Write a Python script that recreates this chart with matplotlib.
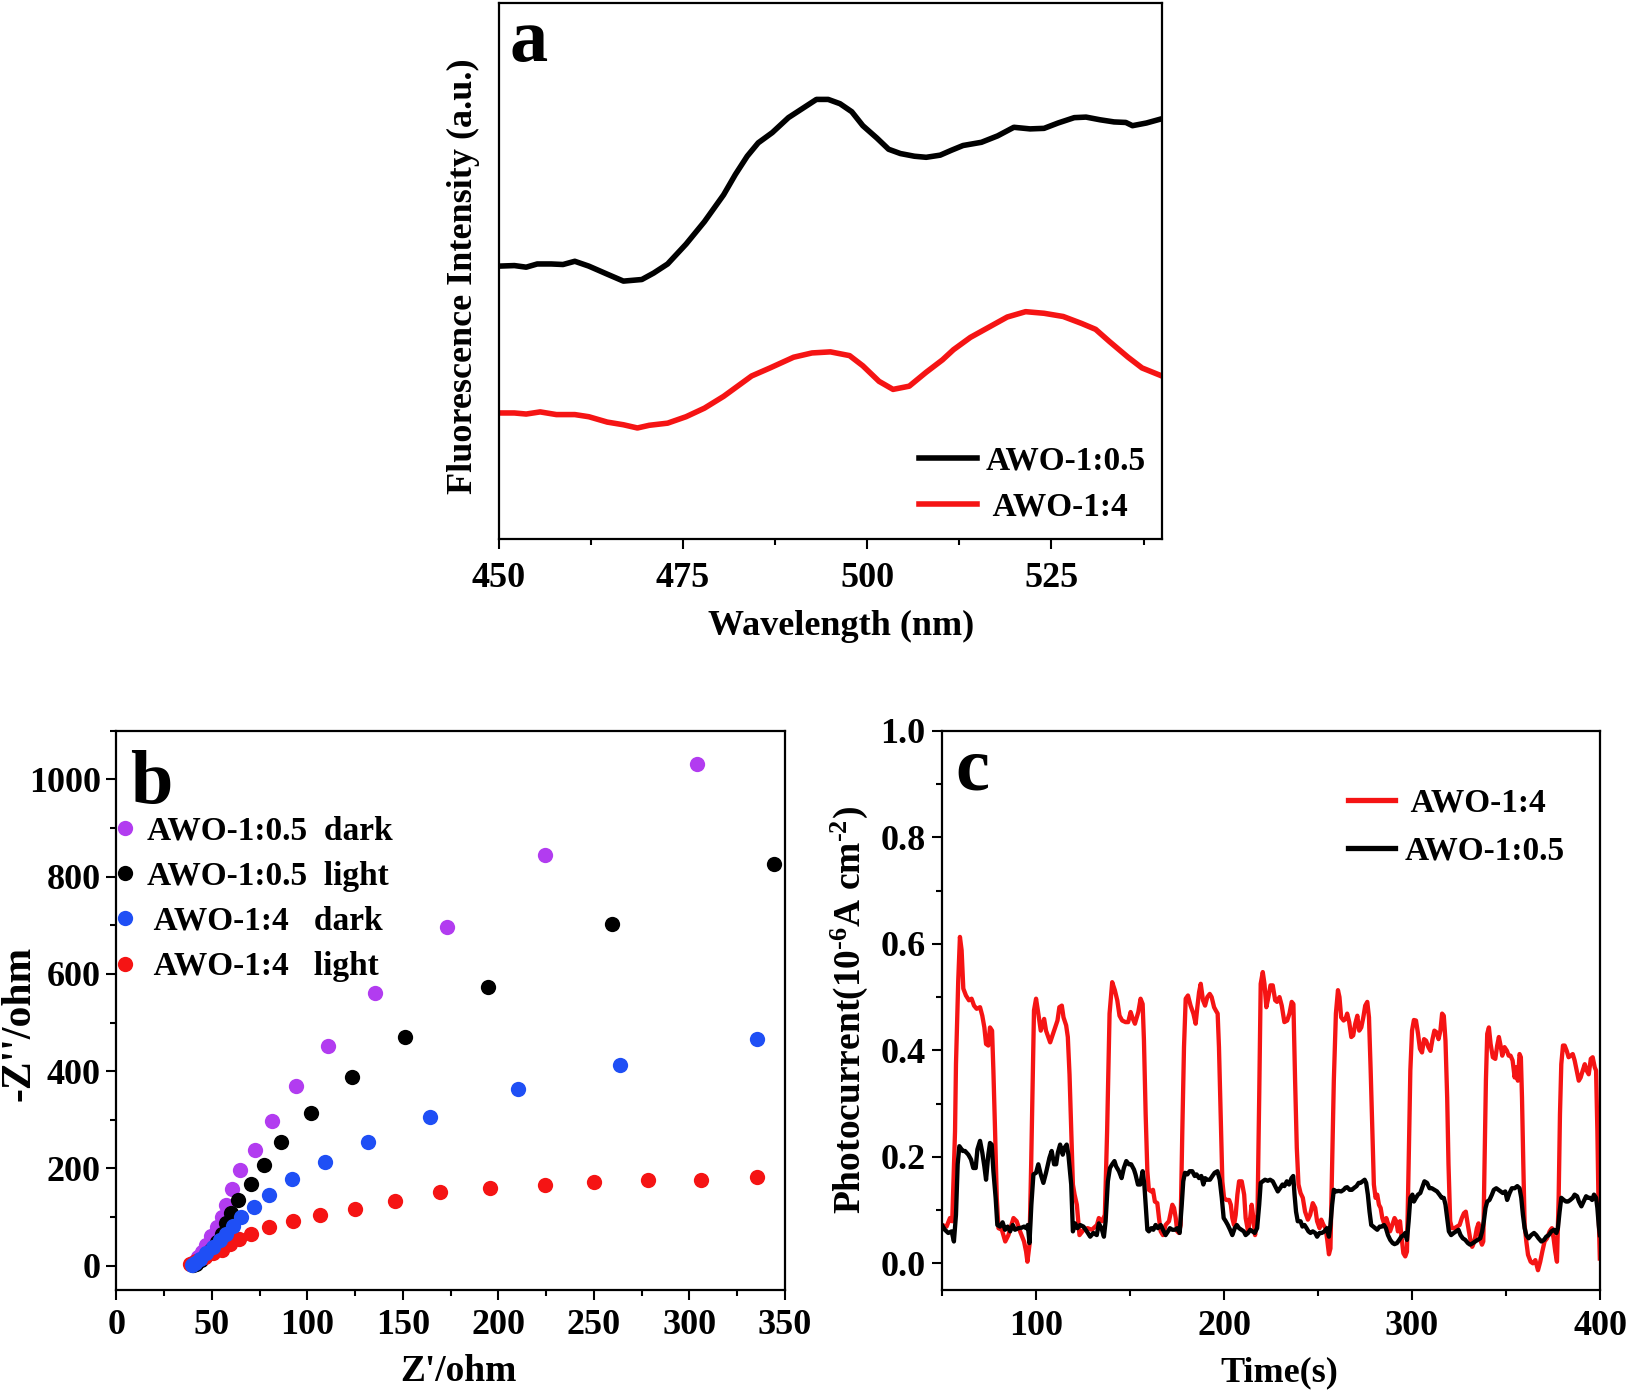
import matplotlib
matplotlib.use("Agg")
import matplotlib.pyplot as plt
from matplotlib.ticker import MultipleLocator, FormatStrFormatter

plt.rcParams['font.family'] = ['Liberation Serif', 'DejaVu Serif']
plt.rcParams['font.weight'] = 'bold'
plt.rcParams['axes.labelweight'] = 'bold'
plt.rcParams['mathtext.fontset'] = 'custom'
plt.rcParams['mathtext.rm'] = 'Liberation Serif:bold'
plt.rcParams['mathtext.it'] = 'Liberation Serif:italic:bold'
plt.rcParams['mathtext.bf'] = 'Liberation Serif:bold'
plt.rcParams['mathtext.default'] = 'rm'

# ── (a) fluorescence spectra ─────────────────────────────────────────────────
wl_05 = [450.0, 452.1, 453.7, 455.2, 457.1, 458.7, 460.3, 462.2, 464.7, 466.9,
         469.4, 471.0, 472.9, 475.4, 477.9, 480.5, 482.1, 483.7, 485.2, 487.1,
         489.3, 491.2, 493.1, 494.7, 496.3, 497.9, 499.4, 501.3, 502.9, 504.5,
         506.4, 508.0, 509.9, 511.4, 513.0, 515.5, 517.7, 519.9, 522.1, 524.0,
         525.9, 528.1, 529.7, 531.6, 533.5, 535.1, 536.0, 537.9, 540.0]
fl_05 = [50.9, 51.0, 50.7, 51.3, 51.3, 51.2, 51.8, 50.9, 49.4, 48.1,
         48.4, 49.6, 51.3, 55.0, 59.2, 64.2, 68.0, 71.4, 73.9, 75.8,
         78.6, 80.3, 82.0, 82.0, 81.2, 79.7, 77.1, 74.8, 72.7, 71.9,
         71.4, 71.2, 71.6, 72.5, 73.4, 74.0, 75.2, 76.8, 76.5, 76.6,
         77.6, 78.6, 78.7, 78.2, 77.8, 77.7, 77.1, 77.6, 78.4]
wl_4 = [450.0, 452.1, 453.7, 455.6, 457.8, 460.3, 462.2, 464.7, 466.9, 468.8,
        470.4, 472.9, 475.4, 477.9, 480.5, 482.4, 484.3, 486.8, 490.0, 492.5,
        495.0, 497.6, 499.4, 501.6, 503.5, 505.7, 508.0, 510.2, 511.7, 514.0,
        516.5, 519.0, 521.5, 524.0, 526.6, 529.1, 531.0, 532.9, 535.4, 537.3,
        540.0]
fl_4 = [23.5, 23.5, 23.3, 23.7, 23.2, 23.2, 22.8, 21.8, 21.3, 20.7,
        21.2, 21.6, 22.8, 24.4, 26.6, 28.5, 30.4, 31.9, 33.9, 34.7,
        34.9, 34.2, 32.3, 29.4, 27.9, 28.5, 31.1, 33.4, 35.3, 37.6,
        39.5, 41.4, 42.4, 42.1, 41.5, 40.2, 39.1, 36.8, 33.9, 31.9,
        30.4]

# ── (b) Nyquist plots ────────────────────────────────────────────────────────
zr_05d = [38.9, 40.7, 42.8, 45.0, 47.1, 49.7, 52.4, 55.0, 57.6, 60.7,
          64.9, 72.5, 81.2, 93.9, 110.5, 135.6, 173.1, 224.6, 303.9]
zi_05d = [3, 8, 17, 28, 42, 61, 80, 101, 125, 157,
          196, 238, 297, 370, 452, 560, 697, 845, 1031]
zr_05l = [40.1, 41.9, 44.5, 47.1, 49.7, 52.4, 55.0, 57.6, 60.2, 63.7,
          70.2, 77.1, 86.4, 101.6, 123.2, 151.3, 194.5, 259.6, 344.4]
zi_05l = [1, 4, 11, 21, 32, 49, 66, 87, 109, 135,
          168, 206, 254, 314, 388, 470, 574, 702, 827]
zr_4d = [39.3, 41.0, 43.6, 47.1, 50.6, 54.1, 57.6, 61.1, 65.4, 71.9,
         79.9, 92.0, 109.4, 131.7, 164.0, 210.0, 263.7, 335.3]
zi_4d = [1, 6, 14, 26, 39, 52, 66, 81, 99, 121,
         146, 178, 214, 255, 306, 363, 412, 466]
zr_4l = [38.4, 41.9, 46.2, 50.6, 55.0, 59.3, 64.2, 70.3, 79.8, 92.6,
         106.4, 124.8, 145.8, 169.5, 195.4, 224.3, 250.2, 278.3, 305.9, 335.6]
zi_4l = [3, 10, 17, 25, 33, 44, 54, 66, 80, 91,
         104, 117, 133, 151, 160, 166, 171, 176, 177, 182]
eis_labels = ['AWO-1:0.5  dark', 'AWO-1:0.5  light', ' AWO-1:4   dark', ' AWO-1:4   light']

# ── (c) transient photocurrent ───────────────────────────────────────────────
t_4 = [49.9, 52.4, 54.2, 55.4, 56.9, 57.4, 58.6, 59.5, 60.4, 61.3, 62.7, 64.3, 65.7, 67.0,
       68.4, 70.2, 71.4, 72.5, 73.4, 74.6, 75.5, 76.6, 77.3, 78.2, 79.1, 80.0, 81.8, 83.6,
       85.3, 88.0, 89.7, 91.5, 93.6, 94.7, 95.4, 96.5, 97.4, 98.2, 98.9, 100.0, 101.2, 102.5,
       103.6, 104.3, 105.3, 107.5, 109.6, 111.4, 112.4, 113.7, 114.6, 116.0, 116.9, 117.8,
       118.7, 119.6, 120.5, 121.7, 123.1, 125.3, 127.4, 129.7, 132.4,
       133.4, 135.2, 136.6, 137.8, 139.1, 140.5, 141.9, 143.2, 144.4, 145.8, 147.6, 149.0,
       150.3, 151.5, 152.6, 154.4, 155.6, 156.7, 157.4, 158.3, 159.2, 160.0, 161.3, 162.2,
       163.2, 164.5, 165.4, 166.3, 167.5, 168.9, 170.7, 172.5, 173.4, 174.3, 175.1, 176.0,
       176.9, 177.8, 178.7, 179.6, 180.8, 182.2, 183.7, 184.9, 185.8, 186.7, 187.6, 188.8,
       189.9, 191.1, 192.4, 193.4, 194.7, 195.6, 196.6, 197.3, 198.2, 199.1, 200.0, 201.2,
       202.7, 203.6, 204.4, 205.3, 206.2, 207.1, 208.0, 209.4, 210.7, 211.5, 212.8, 213.7,
       214.7, 215.6, 216.5, 217.8, 218.7, 219.5,
       220.6, 221.5, 222.5, 223.6, 224.7, 225.9, 227.2, 228.2, 229.5, 230.7, 232.1, 233.6,
       234.8, 236.0, 236.9, 237.8, 238.7, 239.6, 240.7, 241.9, 243.1, 244.6, 245.8, 247.2,
       248.5, 249.5, 250.8, 251.7, 252.9, 254.0, 254.9, 255.8, 256.6, 257.5, 258.4, 259.5,
       260.6, 261.4, 262.3, 263.6, 264.6, 265.5, 266.6, 267.7, 268.7, 269.8, 270.9, 271.9,
       273.0, 274.1, 275.1, 276.2, 277.1, 278.0, 278.9, 279.7, 280.6, 281.5, 282.4, 283.3,
       284.2, 285.4, 286.3, 287.2, 288.3, 289.5, 290.7, 291.6, 292.5, 293.6, 294.5, 295.4,
       296.4, 297.3, 298.2, 299.1, 300.0, 301.0, 302.1, 303.2, 304.2, 305.3, 306.4,
       307.5, 308.7, 309.8, 310.9, 311.9, 313.0, 314.1, 315.1, 316.0, 316.9, 317.8, 318.7,
       319.4, 320.3, 321.2, 322.6, 324.0, 325.3, 326.5, 327.6, 328.6, 329.7, 330.9, 332.0,
       333.2, 334.5, 335.4, 336.3, 337.2, 337.9, 338.6, 339.3, 340.0, 340.9, 341.8, 343.0,
       344.3, 345.3, 346.2, 347.1, 348.0, 349.2, 350.5, 351.4, 352.4, 353.5, 354.6, 355.4,
       356.3, 357.2, 357.9, 358.5, 359.2, 359.9, 360.8, 361.7, 363.1, 364.3, 365.6, 367.0,
       368.2, 369.3, 370.5, 371.8, 373.2, 374.4, 375.3, 376.2, 377.1, 378.0, 378.7, 379.4,
       380.3, 381.2, 382.3, 383.3, 384.4, 385.5, 386.5, 387.6, 388.7, 389.7, 390.8, 391.9,
       392.9, 394.0, 395.1, 396.1, 397.2, 397.9, 398.6, 399.3, 399.9]
pc_4 = [.072, .069, .085, .079, .248, .374, .531, .613, .588, .516, .503, .494, .497, .484,
        .478, .481, .465, .443, .412, .409, .443, .437, .362, .248, .123, .066, .063, .041,
        .053, .085, .079, .060, .041, .022, .003, .035, .186, .343, .475, .497, .469, .437,
        .450, .459, .437, .415, .437, .456, .481, .484, .462, .447, .425, .355,
        .248, .148, .129, .110, .053, .063, .066, .063, .072,
        .085, .079, .091, .248, .469, .528, .513, .494, .465, .456, .453, .453,
        .472, .459, .450, .472, .497, .487, .418, .280, .173, .138, .135, .138,
        .116, .113, .085, .060, .053, .072, .079, .110, .104, .085, .060, .057,
        .072, .248, .406, .497, .503, .484, .469, .450, .481, .509, .525, .494,
        .484, .500, .506, .500, .481, .475, .469, .406, .280, .154, .123, .119,
        .119, .110, .085, .072, .091, .129, .154, .154, .129, .085, .060, .079,
        .110, .085, .053, .091, .311, .525,
        .547, .525, .481, .500, .522, .522, .494, .491, .500, .484, .453, .456,
        .469, .491, .487, .343, .217, .148, .132, .123, .097, .082, .091, .113,
        .104, .079, .066, .082, .072, .066, .044, .017, .028, .186, .343, .469,
        .513, .500, .462, .456, .459, .469, .453, .425, .428, .450, .465, .437,
        .443, .462, .484, .491, .462, .362, .248, .148, .123, .129, .110, .104,
        .085, .072, .085, .075, .060, .072, .085, .079, .060, .079, .047, .019,
        .013, .022, .186, .362, .437, .457, .456, .431, .403, .396, .421,
        .418, .406, .399, .421, .437, .434, .421, .437, .469, .465, .418, .311,
        .186, .079, .066, .066, .069, .072, .085, .094, .097, .072, .047, .031,
        .041, .066, .075, .044, .035, .041, .186, .343, .431, .443, .412, .387,
        .384, .409, .425, .409, .390, .406, .399, .390, .390, .381, .349, .368,
        .343, .393, .387, .311, .186, .072, .041, .016, .003, .000, .006, -.013,
        .003, .022, .041, .047, .060, .066, .047, .022, .003, .123, .280, .374,
        .409, .409, .399, .387, .390, .393, .381, .362, .343, .349, .362, .374,
        .362, .355, .384, .387, .368, .362, .248, .091, .009]

t_05 = [49.9, 51.5, 53.3, 55.1, 56.3, 57.4, 58.3, 59.2, 61.0, 62.2, 64.0, 65.4, 66.6, 67.9,
        68.8, 70.2, 71.4, 72.5, 73.4, 74.6, 75.5, 76.4, 77.3, 78.5, 79.4, 80.8, 82.2, 83.5,
        84.9, 86.2, 87.6, 88.8, 90.6, 92.4, 93.6, 94.7, 95.6, 96.5, 97.5, 98.6, 100.0, 101.2,
        102.5, 103.9, 105.3, 107.1, 108.3, 109.6, 110.7, 111.6, 112.8, 114.2, 115.1, 116.3,
        117.2, 118.7, 119.6, 120.8, 122.0, 123.4, 125.2, 127.0, 128.8, 130.5, 132.3,
        133.4, 134.8, 136.1, 137.0, 138.2, 139.3, 140.5, 141.7, 142.6, 144.1, 145.5, 146.7,
        148.0, 149.4, 150.6, 152.1, 152.9, 154.2, 155.4, 156.7, 157.6, 158.3, 159.2, 160.0,
        161.3, 162.4, 163.6, 164.8, 166.3, 167.5, 168.9, 170.2, 171.2, 172.5, 173.9, 175.1,
        176.4, 177.5, 178.3, 179.2, 180.5, 181.7, 183.1, 184.4, 185.4, 186.7, 187.9, 189.0,
        189.9, 191.1, 192.5, 193.8, 195.0, 196.5, 197.7, 198.8, 199.8, 200.9, 202.0, 203.2,
        204.4, 205.7, 206.8, 208.0, 209.2, 210.5, 211.5, 212.8, 213.9, 215.1, 216.3, 217.6,
        218.7, 219.5,
        220.6, 221.8, 223.3, 224.5, 225.9, 227.2, 228.6, 229.8, 231.1, 232.1, 233.4, 234.6,
        235.9, 236.8, 237.5, 238.3, 239.2, 240.7, 241.7, 242.8, 243.9, 244.9, 246.0, 247.2,
        248.5, 249.5, 250.8, 252.0, 253.4, 254.7, 255.8, 256.6, 257.5, 258.4, 259.7, 260.9,
        262.3, 263.6, 264.6, 265.5, 266.8, 268.0, 269.3, 270.5, 271.6, 272.6, 273.7, 274.8,
        275.6, 276.5, 277.4, 278.3, 279.4, 280.4, 281.5, 282.8, 284.0, 285.1, 286.1, 287.2,
        288.4, 289.7, 290.7, 292.0, 293.2, 294.3, 295.5, 296.4, 297.3, 298.2, 299.1, 300.2,
        301.0, 302.1, 303.2, 304.4, 305.7,
        306.6, 308.0, 309.3, 310.5, 311.9, 313.3, 314.6, 315.8, 316.9, 317.8, 318.7, 319.6,
        320.8, 322.2, 323.5, 324.7, 325.8, 327.0, 328.3, 329.7, 330.9, 332.4, 333.6, 335.0,
        336.3, 337.3, 338.2, 339.1, 340.0, 341.2, 342.5, 343.5, 344.8, 346.0, 347.1, 348.3,
        349.6, 350.6, 351.9, 353.1, 354.6, 356.0, 357.2, 358.1, 359.0, 359.9, 360.8, 362.0,
        363.4, 364.9, 366.1, 367.3, 368.8, 370.2, 371.4, 372.7, 374.1, 375.5, 376.8, 377.6,
        378.5, 379.4, 380.7, 381.9, 383.0, 384.2, 385.5, 386.5, 387.8, 388.8, 390.1, 391.3,
        392.6, 393.6, 394.7, 395.8, 396.8, 397.9, 398.6, 399.3, 399.9]
pc_05 = [.072, .063, .057, .060, .041, .091, .186, .220, .211, .211, .204, .195, .179, .179,
         .214, .230, .208, .182, .157, .204, .226, .223, .173, .123, .072, .069, .077, .063,
         .069, .060, .072, .063, .066, .067, .069, .066, .072, .038, .110, .167, .170, .186,
         .167, .151, .170, .198, .211, .186, .186, .208, .223, .204, .217, .223,
         .204, .148, .060, .075, .066, .072, .069, .060, .050, .057, .053,
         .075, .066, .050, .079, .154, .179, .186, .192, .182, .173, .160, .179,
         .192, .186, .186, .176, .167, .148, .148, .173, .148, .110, .063, .060,
         .066, .063, .072, .066, .072, .063, .053, .060, .066, .063, .063, .066,
         .057, .110, .154, .170, .167, .173, .173, .164, .167, .160, .164, .148,
         .160, .157, .157, .164, .170, .173, .157, .123, .085, .079, .072, .063,
         .053, .066, .072, .066, .063, .060, .053, .057, .063, .060, .057, .066,
         .110, .151,
         .154, .157, .155, .157, .154, .145, .135, .141, .148, .145, .154, .148,
         .160, .164, .129, .097, .079, .079, .069, .072, .066, .060, .057, .060,
         .057, .050, .057, .057, .060, .066, .050, .072, .110, .138, .135, .136,
         .135, .138, .142, .143, .138, .138, .142, .145, .151, .151, .154, .157,
         .151, .129, .097, .072, .069, .066, .063, .069, .069, .072, .066, .053,
         .044, .038, .036, .038, .044, .050, .053, .057, .044, .079, .123, .129,
         .116, .123, .129, .132, .145,
         .154, .151, .141, .141, .138, .135, .129, .123, .123, .110, .085, .060,
         .053, .057, .060, .063, .053, .047, .044, .038, .035, .038, .041, .044,
         .047, .060, .079, .104, .116, .119, .129, .138, .141, .138, .135, .132,
         .135, .119, .132, .141, .141, .145, .141, .123, .091, .066, .053, .047,
         .053, .057, .053, .047, .041, .044, .050, .053, .060, .063, .057, .066,
         .097, .123, .119, .116, .116, .119, .123, .129, .126, .116, .107, .116,
         .126, .123, .123, .119, .129, .123, .104, .072, .053]

LBL = 26
TICK = 26
LEG = 24
LETTER = 55
PURPLE = '#B23CF0'
BLUE = '#1F4FF5'
RED = '#F51414'


def style_axes(ax):
    for s in ax.spines.values():
        s.set_linewidth(1.6)
    ax.tick_params(which='both', direction='out', width=1.5, labelsize=TICK,
                   top=False, right=False)
    ax.tick_params(which='major', length=7)
    ax.tick_params(which='minor', length=4)


fig = plt.figure(figsize=(16.31, 13.98), dpi=100, facecolor='white')

# Panel a
ax1 = fig.add_axes([0.3059, 0.6145, 0.4065, 0.3834])
ax1.plot(wl_05, fl_05, color='black', lw=4, label='AWO-1:0.5')
ax1.plot(wl_4, fl_4, color=RED, lw=4, label=' AWO-1:4')
ax1.set_xlim(450, 540)
ax1.set_ylim(0, 100)
style_axes(ax1)
ax1.xaxis.set_major_locator(MultipleLocator(25))
ax1.xaxis.set_minor_locator(MultipleLocator(12.5))
ax1.tick_params(axis='x', which='major', pad=9.5)
ax1.tick_params(axis='y', which='both', left=False, labelleft=False)
ax1.set_xlabel('Wavelength (nm)', fontsize=LBL)
ax1.set_ylabel('Fluorescence Intensity (a.u.)', fontsize=LBL)
ax1.xaxis.set_label_coords(0.5155, -0.133)
ax1.yaxis.set_label_coords(-0.029, 0.49)
ax1.text(0.0166, 0.892, 'a', transform=ax1.transAxes, fontsize=LETTER,
         fontweight='bold', va='baseline', ha='left')
ax1.legend(loc='upper left', bbox_to_anchor=(0.634, 0.174), frameon=False,
           fontsize=LEG, borderpad=0, handlelength=1.74, handletextpad=0.25,
           labelspacing=0.46, borderaxespad=0)

# Panel b
ax2 = fig.add_axes([0.0714, 0.0773, 0.4099, 0.3999])
ms = 11
ax2.plot(zr_05d, zi_05d, 'o', color=PURPLE, ms=ms, mec='none', label=eis_labels[0])
ax2.plot(zr_05l, zi_05l, 'o', color='black', ms=ms, mec='none', label=eis_labels[1])
ax2.plot(zr_4l, zi_4l, 'o', color=RED, ms=ms, mec='none', label=eis_labels[3])
ax2.plot(zr_4d, zi_4d, 'o', color=BLUE, ms=ms, mec='none', label=eis_labels[2])
ax2.set_xlim(0, 350)
ax2.set_ylim(-50, 1100)
style_axes(ax2)
ax2.xaxis.set_major_locator(MultipleLocator(50))
ax2.xaxis.set_minor_locator(MultipleLocator(25))
ax2.yaxis.set_major_locator(MultipleLocator(200))
ax2.yaxis.set_minor_locator(MultipleLocator(100))
ax2.tick_params(axis='x', which='major', pad=6.5)
ax2.tick_params(axis='y', which='major', pad=4.3)
ax2.set_xlabel("Z'/ohm", fontsize=27)
ax2.set_ylabel("-Z''/ohm", fontsize=30)
ax2.xaxis.set_label_coords(0.511, -0.114)
ax2.yaxis.set_label_coords(-0.117, 0.477)
ax2.text(0.02, 0.871, 'b', transform=ax2.transAxes, fontsize=LETTER,
         fontweight='bold', va='baseline', ha='left')
hs, ls = ax2.get_legend_handles_labels()
order = [0, 1, 3, 2]
ax2.legend([hs[i] for i in order], [ls[i] for i in order], loc='upper left',
           bbox_to_anchor=(-0.002, 0.849), frameon=False, fontsize=LEG,
           borderpad=0, borderaxespad=0, handlelength=0.6, handletextpad=0.35,
           labelspacing=0.43, numpoints=1)

# Panel c
ax3 = fig.add_axes([0.5776, 0.0773, 0.4034, 0.3999])
ax3.plot(t_4, pc_4, color=RED, lw=3.1, label=' AWO-1:4')
ax3.plot(t_05, pc_05, color='black', lw=3.1, label='AWO-1:0.5')
ax3.set_xlim(50, 400)
ax3.set_ylim(-0.05, 1.0)
style_axes(ax3)
ax3.xaxis.set_major_locator(MultipleLocator(100))
ax3.xaxis.set_minor_locator(MultipleLocator(50))
ax3.yaxis.set_major_locator(MultipleLocator(0.2))
ax3.yaxis.set_minor_locator(MultipleLocator(0.1))
ax3.yaxis.set_major_formatter(FormatStrFormatter('%.1f'))
ax3.tick_params(axis='x', which='major', pad=7.5)
ax3.tick_params(axis='y', which='major', pad=5)
ax3.set_xlabel('Time(s)', fontsize=LBL)
ax3.set_ylabel('Photocurrent(10$^{\u20106}$A cm$^{\u20102}$)', fontsize=27)
ax3.xaxis.set_label_coords(0.512, -0.118)
ax3.yaxis.set_label_coords(-0.109, 0.50)
ax3.text(0.0205, 0.896, 'c', transform=ax3.transAxes, fontsize=LETTER,
         fontweight='bold', va='baseline', ha='left')
leg3 = ax3.legend(loc='upper left', bbox_to_anchor=(0.6166, 0.899), frameon=False,
                  fontsize=LEG, borderpad=0, borderaxespad=0, handlelength=1.41,
                  handletextpad=0.29, labelspacing=0.51)
for ln in leg3.get_lines():
    ln.set_linewidth(3.8)

fig.savefig('out.png', dpi=100, facecolor='white')
